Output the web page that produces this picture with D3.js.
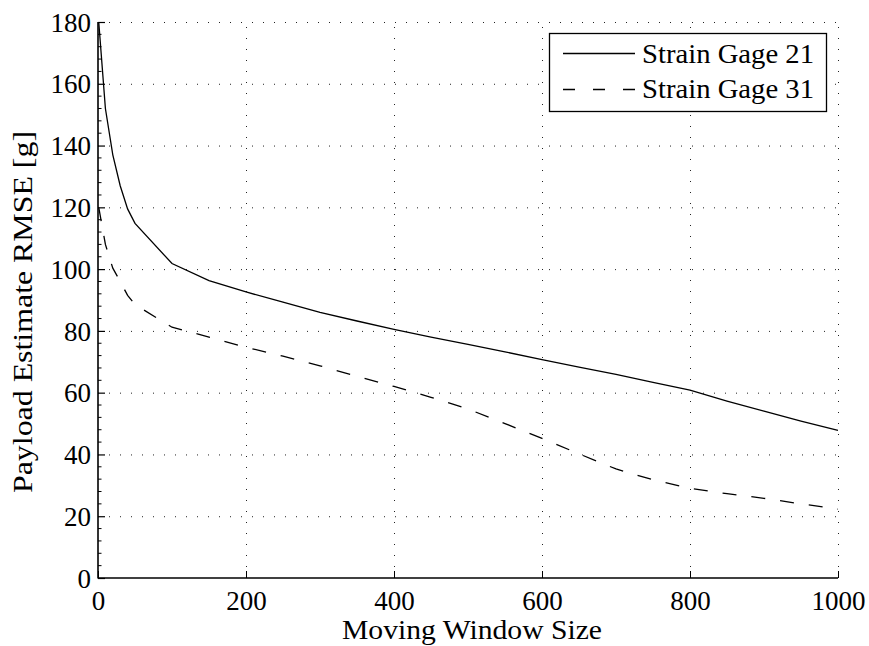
<!DOCTYPE html>
<html>
<head>
<meta charset="utf-8">
<script src="https://cdn.jsdelivr.net/npm/d3@7"></script>
<style>
html, body { margin: 0; padding: 0; background: #fff; }
svg { display: block; }
text { font-family: "Liberation Serif", "DejaVu Serif", serif; fill: #000; }
</style>
</head>
<body>
<svg id="chart" width="869" height="646"></svg>
<script>
// ---- data ----
const windowSize = [1, 10, 20, 30, 40, 50, 100, 150, 200, 250, 300, 350, 400, 450, 500, 550, 600, 650, 700, 750, 800, 850, 900, 950, 1000];
const gage21 = [180, 152, 137, 127, 119.5, 114.8, 101.8, 96.3, 92.6, 89.3, 86, 83.2, 80.5, 78, 75.6, 73.2, 70.7, 68.3, 65.9, 63.3, 60.8, 57.3, 54, 50.8, 47.8];
const gage31 = [120, 108, 100.3, 96, 91.5, 88.5, 81.2, 78, 74.7, 71.8, 68.7, 65.3, 62, 58.5, 54.7, 50, 45.2, 40.2, 35.3, 31.8, 29, 27.3, 25.8, 24, 22.3];
const seriesNames = ["Strain Gage 21", "Strain Gage 31"];
const xTickValues = [0, 200, 400, 600, 800, 1000];
const yTickValues = [0, 20, 40, 60, 80, 100, 120, 140, 160, 180];
const xLabel = "Moving Window Size";
const yLabel = "Payload Estimate RMSE [g]";

// ---- layout ----
const svg = d3.select("#chart");
const L = 98, R = 838, T = 22, B = 578;
const x = d3.scaleLinear().domain([0, 1000]).range([L, R]);
const y = d3.scaleLinear().domain([0, 180]).range([B, T]);
const fs = 27;

// grid (dotted)
const grid = svg.append("g").attr("stroke", "#222").attr("stroke-width", 1).attr("stroke-dasharray", "1,10");
grid.selectAll("line.gx").data(xTickValues.filter(d => d > 0)).enter().append("line")
  .attr("x1", d => x(d) + 0.5).attr("x2", d => x(d) + 0.5).attr("y1", B).attr("y2", T);
grid.selectAll("line.gy").data(yTickValues.filter(d => d > 0)).enter().append("line")
  .attr("x1", L).attr("x2", R).attr("y1", d => y(d) + 0.5).attr("y2", d => y(d) + 0.5);

// axes
const xAxis = d3.axisBottom(x).tickValues(xTickValues).tickSizeInner(-7).tickSizeOuter(0).tickPadding(14).tickFormat(d3.format("d"));
const gx = svg.append("g").attr("transform", `translate(0,${B})`).call(xAxis);
gx.select(".domain").remove();
gx.selectAll(".tick line").attr("stroke", "#000").attr("stroke-width", 1);
gx.selectAll(".tick text").attr("font-size", fs).attr("font-family", "Liberation Serif").attr("dy", "0.71em").attr("y", 13);

const yAxis = d3.axisLeft(y).tickValues(yTickValues).tickSizeInner(-7).tickSizeOuter(0).tickPadding(7).tickFormat(d3.format("d"));
const gy = svg.append("g").attr("transform", `translate(${L},0)`).call(yAxis);
gy.select(".domain").remove();
gy.selectAll(".tick line").attr("stroke", "#000").attr("stroke-width", 1.2);
gy.selectAll(".tick text").attr("font-size", fs).attr("font-family", "Liberation Serif").attr("x", -7).attr("dy", "0.34em");

// minor ticks on y
const minor = d3.range(0, 181, 4).filter(d => d % 20 !== 0);
svg.append("g").selectAll("line").data(minor).enter().append("line")
  .attr("x1", L).attr("x2", L + 3.5).attr("y1", d => y(d)).attr("y2", d => y(d))
  .attr("stroke", "#000").attr("stroke-width", 1);

// axis lines (left & bottom solid)
svg.append("line").attr("x1", L).attr("x2", L).attr("y1", T).attr("y2", B + 0.5).attr("stroke", "#000").attr("stroke-width", 1.6);
svg.append("line").attr("x1", L).attr("x2", R).attr("y1", B).attr("y2", B).attr("stroke", "#000").attr("stroke-width", 1.6);

// series
const line = d3.line().x(d => x(d[0])).y(d => y(d[1]));
const d21 = windowSize.map((w, i) => [w, gage21[i]]);
const d31 = windowSize.map((w, i) => [w, gage31[i]]);
svg.append("path").datum(d21).attr("d", line).attr("fill", "none").attr("stroke", "#000").attr("stroke-width", 1.3);
svg.append("path").datum(d31).attr("d", line).attr("fill", "none").attr("stroke", "#000").attr("stroke-width", 1.3).attr("stroke-dasharray", "14,15");

// labels
svg.append("text").attr("x", 472).attr("y", 639).attr("text-anchor", "middle").attr("font-size", fs)
  .attr("textLength", 260).attr("lengthAdjust", "spacingAndGlyphs").text(xLabel);
svg.append("text").attr("transform", "translate(32,312) rotate(-90)").attr("text-anchor", "middle").attr("font-size", fs)
  .attr("textLength", 362).attr("lengthAdjust", "spacingAndGlyphs").text(yLabel);

// legend
const lg = svg.append("g");
lg.append("rect").attr("x", 549.5).attr("y", 33.5).attr("width", 277).attr("height", 78).attr("fill", "#fff").attr("stroke", "#000").attr("stroke-width", 1.3);
const rows = [{ name: seriesNames[0], dash: null, ly: 53.5, ty: 63 }, { name: seriesNames[1], dash: "12,18", ly: 89.5, ty: 98 }];
rows.forEach(r => {
  const ln = lg.append("line").attr("x1", 563).attr("x2", 635).attr("y1", r.ly).attr("y2", r.ly).attr("stroke", "#000").attr("stroke-width", 1.3);
  if (r.dash) ln.attr("stroke-dasharray", r.dash);
  lg.append("text").attr("x", 642).attr("y", r.ty).attr("font-size", fs)
    .attr("textLength", 172).attr("lengthAdjust", "spacingAndGlyphs").text(r.name);
});
</script>
</body>
</html>
